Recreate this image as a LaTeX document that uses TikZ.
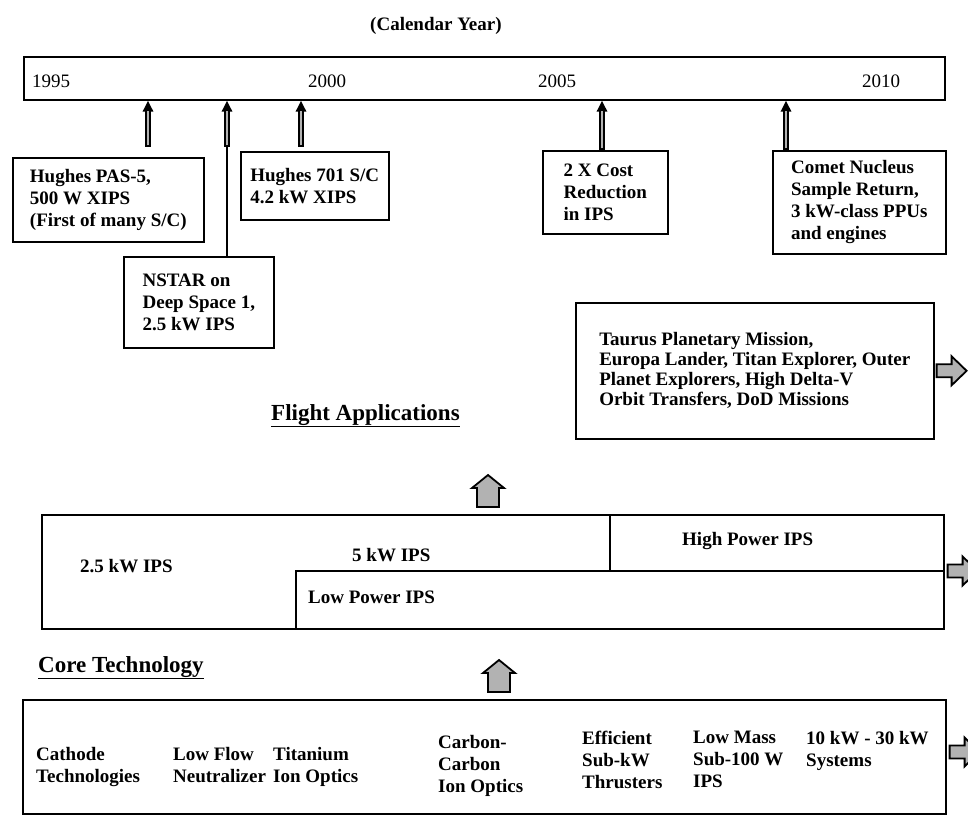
\documentclass[tikz,border=0pt]{standalone}
\usepackage{fontspec}
\setmainfont{Liberation Serif}
\usetikzlibrary{arrows.meta}
\tikzset{
  lbl/.style={font=\fontsize{19}{22}\selectfont\bfseries, inner sep=0pt, align=left},
  box/.style={lbl, draw, line width=1.6pt, anchor=north west},
  yr/.style={font=\fontsize{19}{22}\selectfont, inner sep=0pt, anchor=base west},
  head/.style={font=\fontsize{23}{27}\selectfont\bfseries, inner sep=0pt, anchor=base west},
  tick/.style={line width=5.2pt, -{Triangle[length=11pt,width=10pt]},
    postaction={draw=gray!60, line width=2.4pt, shorten >=10pt, shorten <=1.5pt, arrows=-}},
  fatright/.pic={\draw[line width=1.8pt, fill=gray!60] (0,-6.5) -- (15,-6.5) -- (15,-14.5)
    -- (30,0) -- (15,14.5) -- (15,6.5) -- (0,6.5) -- cycle;},
  fatup/.pic={\draw[line width=1.8pt, fill=gray!60] (0,-11) -- (19,-11) -- (19,-16)
    -- (32,0) -- (19,16) -- (19,11) -- (0,11) -- cycle;}
}
\begin{document}
\begin{tikzpicture}[x=1pt, y=-1pt]
  \useasboundingbox (0,0) rectangle (968,821);
  % time line
  \node[lbl, anchor=base west] (cal) at (370,31) {(Calendar Year)};
  \node[box, minimum width=921pt, minimum height=43pt] (tl) at (23,56) {};
  \node[yr] (y95) at (32,88) {1995};
  \node[yr] (y00) at (308,88) {2000};
  \node[yr] (y05) at (538,88) {2005};
  \node[yr] (y10) at (862,88) {2010};

  % milestones
  \node[box, minimum width=191pt, minimum height=84pt] (pas) at (12,157)
    {Hughes PAS-5,\\500 W XIPS\\(First of many S/C)};
  \node[box, minimum width=148pt, minimum height=68pt] (hug) at (240,151)
    {Hughes 701 S/C\\4.2 kW XIPS};
  \node[box, minimum width=150pt, minimum height=91pt] (nstar) at (123,256)
    {NSTAR on\\Deep Space 1,\\2.5 kW IPS};
  \node[box, minimum width=125pt, minimum height=83pt] (cost) at (542,150)
    {2 X Cost\\Reduction\\in IPS};
  \node[box, minimum width=173pt, minimum height=103pt] (comet) at (772,150)
    {Comet Nucleus\\Sample Return,\\3 kW-class PPUs\\and engines};

  \coordinate (t1) at (148,147);
  \coordinate (t2) at (227,147);
  \coordinate (t3) at (301,147);
  \coordinate (t4) at (602,150);
  \coordinate (t5) at (786,150);
  \draw[line width=1.3pt] (nstar.north -| t2) -- (t2);
  \foreach \t in {t1,t2,t3,t4,t5}
    \draw[tick] (\t) -- (\t |- tl.south);

  % flight applications
  \node[box, font=\fontsize{19}{20}\selectfont\bfseries, minimum width=358pt, minimum height=136pt] (taurus) at (575,302)
    {Taurus Planetary Mission,\\Europa Lander, Titan Explorer, Outer\\Planet Explorers, High Delta-V\\Orbit Transfers, DoD Missions};
  \pic at ([xshift=2pt]taurus.east) {fatright};
  \node[head] (fa) at (271,420) {\underline{Flight Applications}};
  \pic[rotate=90] at (488,507) {fatup};

  % power levels
  \node[box, minimum width=902pt, minimum height=114pt] (ips) at (41,514) {};
  \coordinate (dv) at (610,571);
  \coordinate (lp) at (296,571);
  \draw[line width=1.6pt] (dv |- ips.north) -- (dv);
  \draw[line width=1.6pt] (lp |- ips.south) -- (lp) -- (lp -| ips.east);
  \node[lbl, anchor=base west] (p25) at (80,572) {2.5 kW IPS};
  \node[lbl, anchor=base west] (p5) at (352,561) {5 kW IPS};
  \node[lbl, anchor=base west] (hp) at (682,545) {High Power IPS};
  \node[lbl, anchor=base west] (lpw) at (308,603) {Low Power IPS};
  \pic at ([xshift=3pt]lp -| ips.east) {fatright};

  % core technology
  \node[head] (ct) at (38,672) {\underline{Core Technology}};
  \pic[rotate=90] at (499,692) {fatup};
  \node[box, minimum width=923pt, minimum height=114pt] (core) at (22,699) {};
  \node[lbl, anchor=north west] (cath) at (36,747) {Cathode\\Technologies};
  \node[lbl, anchor=north west] (neut) at (173,747) {Low Flow\\Neutralizer};
  \node[lbl, anchor=north west] (tio) at (273,747) {Titanium\\Ion Optics};
  \node[lbl, anchor=north west] (cco) at (438,735) {Carbon-\\Carbon\\Ion Optics};
  \node[lbl, anchor=north west] (thr) at (582,731) {Efficient\\Sub-kW\\Thrusters};
  \node[lbl, anchor=north west] (lm) at (693,731) {Low Mass\\Sub-100 W\\IPS};
  \node[lbl, anchor=north west] (sys) at (806,731) {10 kW - 30 kW\\Systems};
  \pic at ([xshift=3pt]core.east |- 0,752) {fatright};
\end{tikzpicture}
\end{document}
